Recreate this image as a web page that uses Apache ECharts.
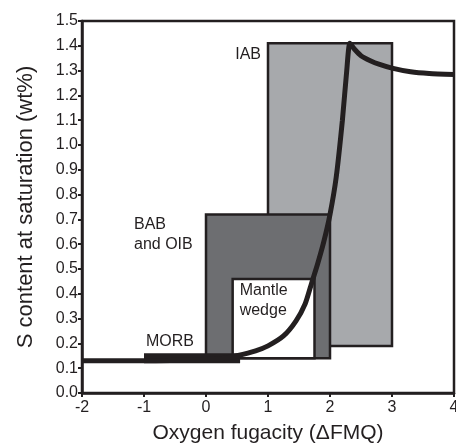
<!DOCTYPE html>
<html>
<head>
<meta charset="utf-8">
<script src="https://cdn.jsdelivr.net/npm/echarts@6/dist/echarts.min.js"></script>
<style>
  html, body { margin: 0; padding: 0; background: #fff; }
  #chart { width: 456px; height: 445px; }
</style>
</head>
<body>
<div id="chart"></div>
<script>
// tick labels
const xTicks = [-2, -1, 0, 1, 2, 3, 4]
const yTicks = [0, 0.1, 0.2, 0.3, 0.4, 0.5, 0.6, 0.7, 0.8, 0.9, 1.0, 1.1, 1.2, 1.3, 1.4, 1.5]

// fields (drawn back to front)
const boxNames = ['IAB', 'BAB\nand OIB', 'Mantle\nwedge', 'MORB']
const boxXMin = [1, 0, 0.43, -1]
const boxXMax = [3, 2, 1.75, 0.55]
const boxYMin = [0.19, 0.14, 0.14, 0.12]
const boxYMax = [1.41, 0.72, 0.46, 0.16]

// sulfur solubility curve
const curveX = [-2, -1, 0, 0.3, 0.5, 0.8, 1.0, 1.25, 1.45, 1.6, 1.7, 1.8, 1.9, 2.0, 2.1, 2.2, 2.27, 2.32, 2.4, 2.5, 2.65, 2.8, 3.0, 3.3, 3.6, 4.0]
const curveY = [0.13, 0.13, 0.135, 0.14, 0.15, 0.17, 0.19, 0.23, 0.29, 0.36, 0.44, 0.52, 0.61, 0.72, 0.87, 1.1, 1.3, 1.41, 1.385, 1.36, 1.34, 1.325, 1.31, 1.295, 1.288, 1.284]

const ink = '#231f20'
const boxFill = ['#a7a9ac', '#6d6e71', '#ffffff', ink]
const boxStroke = [ink, ink, ink, null]

const chart = echarts.init(document.getElementById('chart'))

function renderBox (params, api) {
  const i = params.dataIndex
  const p0 = api.coord([api.value(0), api.value(3)])
  const p1 = api.coord([api.value(1), api.value(2)])
  const rect = {
    type: 'rect',
    shape: { x: p0[0], y: p0[1], width: p1[0] - p0[0], height: p1[1] - p0[1] },
    style: { fill: boxFill[i], stroke: boxStroke[i], lineWidth: boxStroke[i] ? 2.5 : 0 }
  }
  // label placement relative to the box corner
  const txt = { text: boxNames[i], fill: ink, font: '16px "Liberation Sans", Arial, sans-serif', lineHeight: 20 }
  let tx, ty
  if (i === 0) {
    tx = p0[0] - 7; ty = p0[1] + 1
    txt.align = 'right'; txt.verticalAlign = 'top'
  } else if (i === 1) {
    tx = p0[0] - 72; ty = p0[1]
    txt.align = 'left'; txt.verticalAlign = 'top'
  } else if (i === 2) {
    tx = p0[0] + 7; ty = p0[1] + 2
    txt.align = 'left'; txt.verticalAlign = 'top'
  } else {
    tx = p0[0] + 2; ty = p0[1] - 2
    txt.align = 'left'; txt.verticalAlign = 'bottom'
  }
  return {
    type: 'group',
    children: [rect, { type: 'text', x: tx, y: ty, style: txt }]
  }
}

const boxData = boxNames.map((n, i) => [boxXMin[i], boxXMax[i], boxYMin[i], boxYMax[i]])
const curveData = curveX.map((x, i) => [x, curveY[i]])

chart.setOption({
  animation: false,
  textStyle: { fontFamily: '"Liberation Sans", Arial, sans-serif' },
  grid: {
    left: 82,
    right: 2,
    top: 21,
    bottom: 52,
    outerBoundsMode: 'none',
    show: true,
    borderColor: ink,
    borderWidth: 2.5
  },
  xAxis: {
    type: 'value',
    min: xTicks[0],
    max: xTicks[xTicks.length - 1],
    interval: 1,
    name: 'Oxygen fugacity (\u0394FMQ)',
    nameLocation: 'middle',
    nameGap: 30,
    nameTextStyle: { color: ink, fontSize: 21 },
    axisLine: { onZero: false, lineStyle: { color: ink, width: 2.5 } },
    axisTick: { length: 4, lineStyle: { color: ink, width: 2 } },
    axisLabel: { color: ink, fontSize: 16, margin: 7 },
    splitLine: { show: false }
  },
  yAxis: {
    type: 'value',
    min: yTicks[0],
    max: yTicks[yTicks.length - 1],
    interval: 0.1,
    name: 'S content at saturation (wt%)',
    nameLocation: 'middle',
    nameGap: 45,
    nameTextStyle: { color: ink, fontSize: 22 },
    axisLine: { onZero: false, lineStyle: { color: ink, width: 2.5 } },
    axisTick: { length: 4, lineStyle: { color: ink, width: 2 } },
    axisLabel: { color: ink, fontSize: 16, margin: 4, formatter: v => v.toFixed(1) },
    splitLine: { show: false }
  },
  series: [
    {
      type: 'custom',
      renderItem: renderBox,
      data: boxData,
      encode: { x: [0, 1], y: [2, 3] },
      z: 2,
      silent: true
    },
    {
      type: 'line',
      data: curveData,
      showSymbol: false,
      symbol: 'none',
      smooth: 0.2,
      lineStyle: { color: ink, width: 5 },
      z: 3,
      silent: true
    }
  ]
})
</script>
</body>
</html>
